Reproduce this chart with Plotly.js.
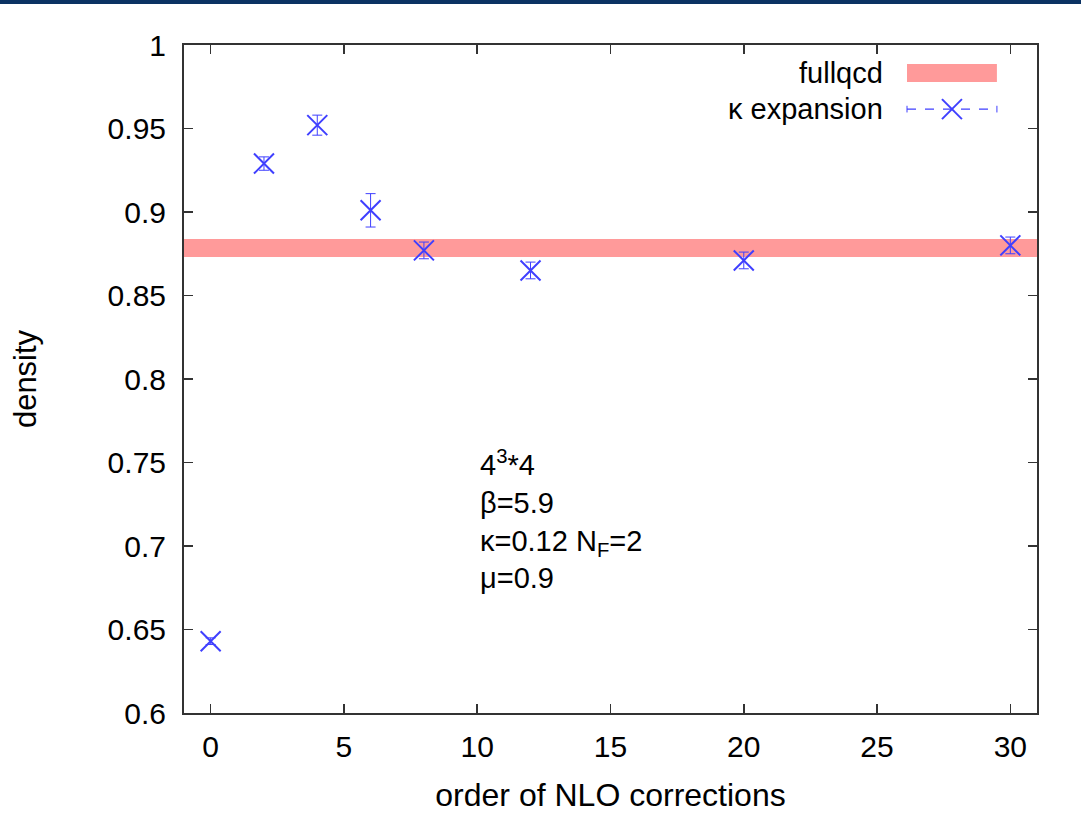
<!DOCTYPE html>
<html>
<head>
<meta charset="utf-8">
<script src="https://cdn.plot.ly/plotly-3.0.1.min.js"></script>
<style>
  html, body { margin: 0; padding: 0; background: #ffffff; }
  #topbar { position: absolute; left: 0; top: 0; width: 1081px; height: 4px; background: #0b3263; z-index: 5; }
  #chart { position: absolute; left: 0; top: 0; width: 1081px; height: 824px; }
</style>
</head>
<body>
<div id="chart"></div>
<div id="topbar"></div>
<script>
// ---- data ----
const orders        = [0, 2, 4, 6, 8, 12, 20, 30];
const kappaDensity  = [0.643, 0.929, 0.952, 0.901, 0.877, 0.865, 0.871, 0.880];
const kappaError    = [0.002, 0.004, 0.006, 0.010, 0.005, 0.005, 0.005, 0.005];
const fullqcdDensity = 0.8784;
const fullqcdError   = 0.0054;
const xTicks = [0, 5, 10, 15, 20, 25, 30];
const yTicks = [0.6, 0.65, 0.7, 0.75, 0.8, 0.85, 0.9, 0.95, 1];
const yTickLabels = ['0.6', '0.65', '0.7', '0.75', '0.8', '0.85', '0.9', '0.95', '1'];
const legendNames = ['fullqcd', 'κ expansion'];
const infoLines = ['4<sup>3</sup>*4', 'β=5.9', 'κ=0.12 N<sub>F</sub>=2', 'μ=0.9'];

const FONT = 'Liberation Sans, Arial, Helvetica, sans-serif';
const BLUE = '#3f3fff';

const traces = [{
  type: 'scatter',
  mode: 'markers',
  x: orders,
  y: kappaDensity,
  name: legendNames[1],
  showlegend: false,
  marker: { symbol: 'x-thin-open', size: 20, color: BLUE, line: { color: BLUE, width: 2 } },
  error_y: { type: 'data', array: kappaError, visible: true, color: BLUE, thickness: 1, width: 5 }
}];

// legend geometry (paper coords) - styling only
const lgTextX = 0.822;
const lgY1 = 0.958, lgY2 = 0.904;
const swX0 = 0.8476, swX1 = 0.953;
const mkX = (swX0 + swX1) / 2, mdx = 0.0117, mdy = 0.015;

const shapes = [
  // fullqcd band
  { type: 'rect', xref: 'paper', yref: 'y', x0: 0, x1: 1,
    y0: fullqcdDensity - fullqcdError, y1: fullqcdDensity + fullqcdError,
    fillcolor: '#ff9a9a', line: { width: 0 }, layer: 'below' },
  // legend swatch for fullqcd
  { type: 'rect', xref: 'paper', yref: 'paper', x0: swX0, x1: swX1, y0: lgY1 - 0.0135, y1: lgY1 + 0.0135,
    fillcolor: '#ff9a9a', line: { width: 0 } },
  // legend sample for kappa expansion
  { type: 'line', xref: 'paper', yref: 'paper', x0: swX0, x1: swX1, y0: lgY2, y1: lgY2,
    line: { color: BLUE, width: 1.2, dash: 'dash' } },
  { type: 'line', xref: 'paper', yref: 'paper', x0: swX0, x1: swX0, y0: lgY2 - 0.005, y1: lgY2 + 0.005,
    line: { color: BLUE, width: 1 } },
  { type: 'line', xref: 'paper', yref: 'paper', x0: swX1, x1: swX1, y0: lgY2 - 0.005, y1: lgY2 + 0.005,
    line: { color: BLUE, width: 1 } },
  { type: 'line', xref: 'paper', yref: 'paper', x0: mkX - mdx, x1: mkX + mdx, y0: lgY2 - mdy, y1: lgY2 + mdy,
    line: { color: BLUE, width: 2 } },
  { type: 'line', xref: 'paper', yref: 'paper', x0: mkX - mdx, x1: mkX + mdx, y0: lgY2 + mdy, y1: lgY2 - mdy,
    line: { color: BLUE, width: 2 } }
];

const annotations = [
  { xref: 'paper', yref: 'paper', x: lgTextX, y: lgY1, xanchor: 'right', yanchor: 'middle',
    text: legendNames[0], showarrow: false, font: { family: FONT, size: 29, color: '#000' } },
  { xref: 'paper', yref: 'paper', x: lgTextX, y: lgY2, xanchor: 'right', yanchor: 'middle',
    text: legendNames[1], showarrow: false, font: { family: FONT, size: 29, color: '#000' } },
  { xref: 'paper', yref: 'paper', x: 0.345, y: 0.29, xanchor: 'left', yanchor: 'middle', align: 'left',
    text: infoLines.join('<br>'), showarrow: false,
    font: { family: FONT, size: 29, color: '#000' } }
];

const layout = {
  width: 1081, height: 824,
  paper_bgcolor: '#ffffff', plot_bgcolor: '#ffffff',
  margin: { l: 184, r: 44, t: 45, b: 111, pad: 0 },
  showlegend: false,
  font: { family: FONT, color: '#000' },
  xaxis: {
    range: [-1, 31], tickvals: xTicks, ticktext: xTicks.map(String),
    ticks: 'inside', ticklen: 9, tickwidth: 1.5, tickcolor: '#333',
    showline: true, linecolor: '#333', linewidth: 2, mirror: 'allticks',
    showgrid: false, zeroline: false,
    tickfont: { family: FONT, size: 30, color: '#000' },
    ticklabelstandoff: 6,
    title: { text: 'order of NLO corrections', font: { family: FONT, size: 32, color: '#000' }, standoff: 22 }
  },
  yaxis: {
    range: [0.6, 1], tickvals: yTicks, ticktext: yTickLabels,
    ticks: 'inside', ticklen: 9, tickwidth: 1.5, tickcolor: '#333',
    showline: true, linecolor: '#333', linewidth: 2, mirror: 'allticks',
    showgrid: false, zeroline: false,
    tickfont: { family: FONT, size: 30, color: '#000' },
    ticklabelstandoff: 10,
    title: { text: 'density', font: { family: FONT, size: 31, color: '#000' }, standoff: 62 }
  },
  shapes: shapes,
  annotations: annotations
};

Plotly.newPlot('chart', traces, layout, { displayModeBar: false, staticPlot: true });
</script>
</body>
</html>
